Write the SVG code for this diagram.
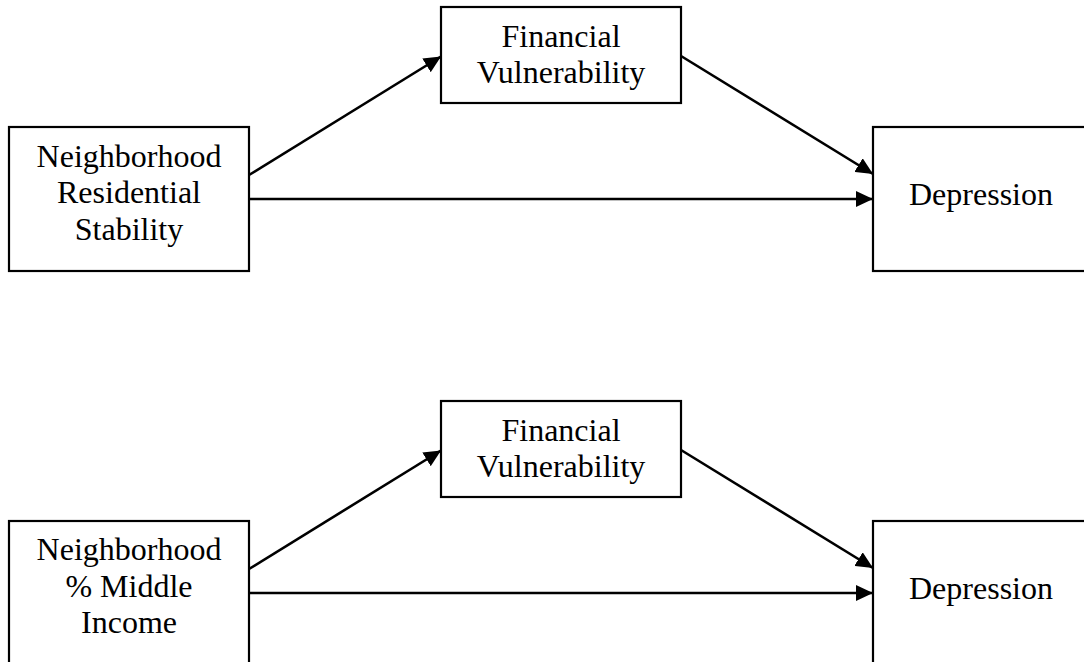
<svg xmlns="http://www.w3.org/2000/svg" width="1084" height="662" viewBox="0 0 1084 662">
<defs>
<style>
.box{fill:#fff;stroke:#000;stroke-width:2.2}
.t{font-family:"Liberation Serif","Times New Roman",serif;font-size:32px;fill:#000}
.c{text-anchor:middle}
.e{stroke:#000;stroke-width:2.6;fill:none;marker-end:url(#ah)}
</style>
<marker id="ah" markerUnits="userSpaceOnUse" markerWidth="18" markerHeight="16" refX="17" refY="8" orient="auto">
<path d="M0,0 L17,8 L0,16 z" fill="#000"/>
</marker>
</defs>
<rect width="1084" height="662" fill="#fff"/>
<g id="connectors">
<line class="e" x1="249" y1="175" x2="441" y2="56.5"/>
<line class="e" x1="681" y1="56" x2="873" y2="174"/>
<line class="e" x1="249" y1="199" x2="873" y2="199"/>
<line class="e" x1="249" y1="569" x2="441" y2="450.5"/>
<line class="e" x1="681" y1="450" x2="873" y2="568"/>
<line class="e" x1="249" y1="593" x2="873" y2="593"/>
</g>
<g id="n1">
<rect class="box" x="9" y="127" width="240" height="144"/>
<text class="t c" x="129" y="167">Neighborhood</text>
<text class="t c" x="129" y="203">Residential</text>
<text class="t c" x="129" y="240">Stability</text>
</g>
<g id="n2">
<rect class="box" x="441" y="7" width="240" height="96"/>
<text class="t c" x="561" y="47">Financial</text>
<text class="t c" x="561" y="83">Vulnerability</text>
</g>
<g id="n3">
<rect class="box" x="873" y="127" width="240" height="144"/>
<text class="t" x="909" y="205">Depression</text>
</g>
<g id="n4">
<rect class="box" x="9" y="521" width="240" height="144"/>
<text class="t c" x="129" y="560">Neighborhood</text>
<text class="t c" x="129" y="597">% Middle</text>
<text class="t c" x="129" y="633">Income</text>
</g>
<g id="n5">
<rect class="box" x="441" y="401" width="240" height="96"/>
<text class="t c" x="561" y="441">Financial</text>
<text class="t c" x="561" y="477">Vulnerability</text>
</g>
<g id="n6">
<rect class="box" x="873" y="521" width="240" height="144"/>
<text class="t" x="909" y="599">Depression</text>
</g>
</svg>
